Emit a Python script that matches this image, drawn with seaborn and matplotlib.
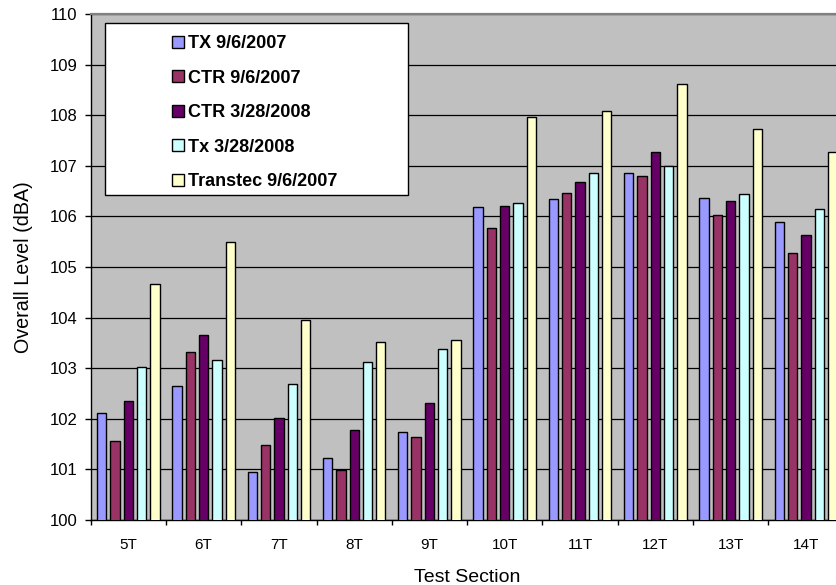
import matplotlib
matplotlib.use("Agg")
import matplotlib.pyplot as plt
from matplotlib.patches import Rectangle
from matplotlib.ticker import FixedLocator
import numpy as np
import pandas as pd
import seaborn as sns

# Test sections along the x axis
sections = ["5T", "6T", "7T", "8T", "9T", "10T", "11T", "12T", "13T", "14T"]

# Overall level (dBA) per measurement series
tx_2007 = [102.11, 102.65, 100.94, 101.22, 101.73, 106.19, 106.34, 106.85, 106.37, 105.88]
ctr_2007 = [101.57, 103.32, 101.48, 100.98, 101.65, 105.77, 106.46, 106.80, 106.02, 105.27]
ctr_2008 = [102.36, 103.65, 102.02, 101.77, 102.31, 106.21, 106.67, 107.27, 106.31, 105.63]
tx_2008 = [103.02, 103.16, 102.68, 103.13, 103.37, 106.27, 106.86, 107.00, 106.44, 106.14]
transtec_2007 = [104.67, 105.49, 103.95, 103.51, 103.56, 107.96, 108.08, 108.62, 107.73, 107.27]

series_names = ["TX 9/6/2007", "CTR 9/6/2007", "CTR 3/28/2008", "Tx 3/28/2008", "Transtec 9/6/2007"]
series_colors = ["#9999FF", "#993366", "#660066", "#CCFFFF", "#FFFFCC"]

y_ticks = [100, 101, 102, 103, 104, 105, 106, 107, 108, 109, 110]

df = pd.DataFrame({
    "section": sections,
    series_names[0]: tx_2007,
    series_names[1]: ctr_2007,
    series_names[2]: ctr_2008,
    series_names[3]: tx_2008,
    series_names[4]: transtec_2007,
})
long_df = df.melt(id_vars="section", var_name="series", value_name="level")

plt.rcParams["font.family"] = ["Liberation Sans", "DejaVu Sans"]

W, H = 836, 585
fig = plt.figure(figsize=(W / 100, H / 100), dpi=100)
# plot area runs slightly past the right edge of the canvas
x0, x1, y_top, y_bot = 90.7, 843.5, 14, 520
ax = fig.add_axes([x0 / W, 1 - y_bot / H, (x1 - x0) / W, (y_bot - y_top) / H])
ax.set_facecolor("#C0C0C0")

sns.barplot(
    data=long_df, x="section", y="level", hue="series",
    hue_order=series_names, palette=series_colors,
    width=0.885, gap=0.3, edgecolor="black", linewidth=1.0,
    saturation=1, ax=ax, zorder=3,
)

ax.set_ylim(100, 110)
ax.set_xlim(-0.5, len(sections) - 0.5)
ax.set_yticks(y_ticks)
ax.yaxis.grid(True, color="black", linewidth=0.9, zorder=1)
ax.set_axisbelow(True)
ax.tick_params(axis="y", direction="out", length=4.5, width=1, pad=5, labelsize=12, colors="black")

# category labels centred, tick marks on group boundaries
ax.tick_params(axis="x", which="major", length=0, pad=13, labelsize=11)
ax.xaxis.set_minor_locator(FixedLocator(np.arange(-0.5, len(sections), 1.0)))
ax.tick_params(axis="x", which="minor", direction="out", length=3.8, width=1, color="black")

for side in ["left", "bottom"]:
    ax.spines[side].set_color("black")
    ax.spines[side].set_linewidth(1)
ax.spines["top"].set_color("#808080")
ax.spines["top"].set_linewidth(1.6)
ax.spines["right"].set_visible(False)

ax.set_xlabel("Test Section", fontsize=14, labelpad=12)
ax.set_ylabel("Overall Level (dBA)", fontsize=14.2, labelpad=12)

handles, labels = ax.get_legend_handles_labels()
ax.get_legend().remove()

# white legend panel
px = lambda v: (v - x0) / (x1 - x0)
py = lambda v: (y_bot - v) / (y_bot - y_top)
panel = Rectangle((px(105), py(195)), px(408) - px(105), py(23) - py(195),
                  transform=ax.transAxes, facecolor="white", edgecolor="black",
                  linewidth=1, zorder=6, clip_on=False)
ax.add_patch(panel)
leg = ax.legend(
    handles, labels, loc="upper left", bbox_to_anchor=(px(172), py(35)),
    frameon=False, borderpad=0, borderaxespad=0,
    prop={"weight": "bold", "size": 13},
    handlelength=0.66, handleheight=0.66, handletextpad=0.25, labelspacing=0.97,
)
leg.set_zorder(7)
for h in leg.legend_handles:
    h.set_edgecolor("black")
    h.set_linewidth(1)

fig.savefig("out.png", dpi=100, facecolor="white")
